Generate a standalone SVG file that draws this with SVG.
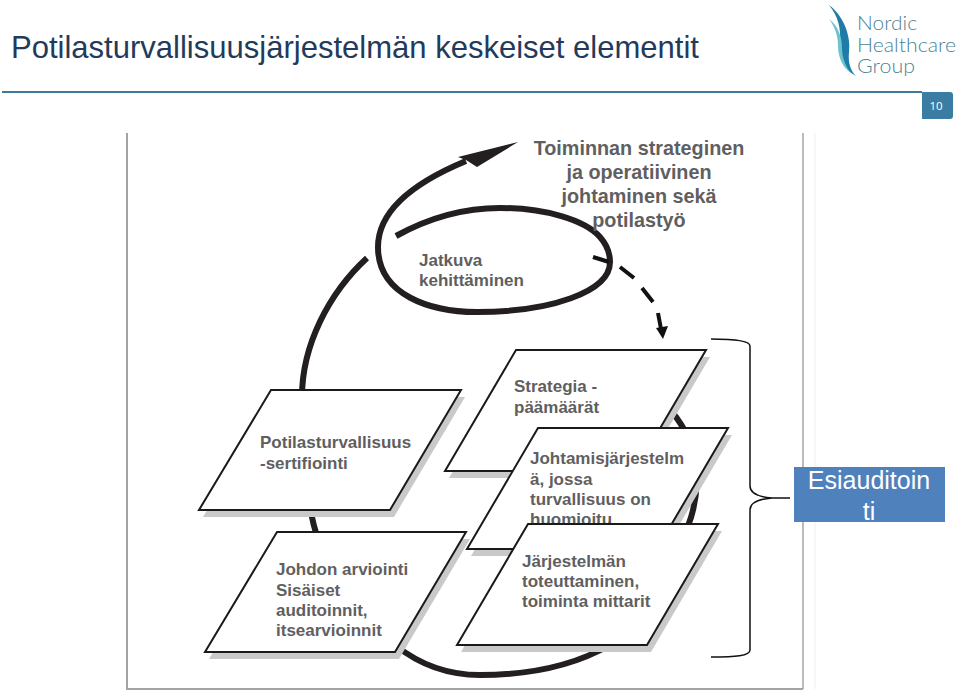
<svg xmlns="http://www.w3.org/2000/svg" width="960" height="694" viewBox="0 0 960 694">
<style>
text{font-family:"Liberation Sans",Arial,sans-serif}
.t{font-size:17px;font-weight:bold;fill:#5f5f61}
.big{font-size:19.8px;font-weight:bold;fill:#5f5f61;text-anchor:middle}
.box{fill:#fff;stroke:#1a1a1a;stroke-width:2;stroke-linejoin:miter}
.sh{fill:#c9c9c9}
.flow{fill:none;stroke:#231f20;stroke-width:6;stroke-linecap:butt}
.logo{font-family:"Lato","Open Sans",sans-serif;font-size:19.5px;font-weight:300;fill:#4d8496}
</style>
<rect width="960" height="694" fill="#fff"/>
<g id="header">
<text x="11" y="58" font-size="30.5" fill="#233a5a" textLength="688" lengthAdjust="spacingAndGlyphs">Potilasturvallisuusjärjestelmän keskeiset elementit</text>
<path d="M2,92H922" stroke="#3d7a9c" stroke-width="2" fill="none"/>
<path d="M922,92H950a3,3 0 0 1 3,3V116a3,3 0 0 1 -3,3H922Z" fill="#3b7ca3"/>
<text x="936" y="110" font-size="11.5" fill="#fff" text-anchor="middle" style="font-family:'Open Sans','Liberation Sans',sans-serif">10</text>
</g>
<g id="logo">
<path d="M829,5C845,17 851,38 849,52C848,62 850,70 856,76C845,70 838,58 840,42C841,28 838,16 829,5Z" fill="#1f7ba8"/>
<path d="M829,19C838,26 842,36 842,48C842,58 846,68 852,74C843,68 838,58 838,46C838,36 835,27 829,19Z" fill="#6fc3cf"/>
<text class="logo" x="857" y="30" textLength="60" lengthAdjust="spacingAndGlyphs">Nordic</text>
<text class="logo" x="857" y="52" textLength="99" lengthAdjust="spacingAndGlyphs">Healthcare</text>
<text class="logo" x="857" y="73" textLength="58" lengthAdjust="spacingAndGlyphs">Group</text>
</g>
<g id="frame" fill="none">
<path d="M803,133V689" stroke="#bcbcbc" stroke-width="2"/>
<path d="M127,133V689H803" stroke="#a4a4a4" stroke-width="2"/>
<path d="M815,133V689" stroke="#efefef" stroke-width="1"/>
</g>
<g id="connectors">
<path class="flow" d="M367,258C330,292 301,345 302,400C302,450 304,495 318,540"/>
<path class="flow" d="M395,645C420,665 450,675 480,675C530,675 575,665 610,645"/>
<path class="flow" d="M672,412C700,445 702,490 688,526"/>
<path class="flow" d="M396,236C425,220 460,208 500,208C545,208 585,220 600,237C607,245 610,253 610,262C610,292 550,312 477,312C430,312 378,295 378,247C378,205 425,178 466,161"/>
<path d="M518,142L458,157L466,160L477,167Z" fill="#231f20"/>
<path d="M593,257L609,262" stroke="#111" stroke-width="4" fill="none"/>
<path d="M620,267L634,278M642,288L653,302M658,313L661,329" stroke="#111" stroke-width="4" fill="none"/>
<path d="M663,339L656,328L668,326Z" fill="#111"/>
<path d="M711,339C735,339 750,341 750,346V486C750,494 760,497 772,498H790M772,498C760,499 750,502 750,510V650C750,656 735,657 711,657" fill="none" stroke="#111" stroke-width="1.5"/>
</g>
<g id="n-potilasturvallisuus">
<polygon class="sh" points="275,397 465,397 394,517 203,517"/>
<polygon class="box" points="271,390 461,390 390,510 199,510"/>
<text class="t" x="260" y="448">Potilasturvallisuus</text>
<text class="t" x="260" y="469">-sertifiointi</text>
</g>
<g id="n-johdon">
<polygon class="sh" points="281,539 470,539 399,659 209,659"/>
<polygon class="box" points="277,532 466,532 395,652 205,652"/>
<text class="t" x="276" y="575">Johdon arviointi</text>
<text class="t" x="276" y="596">Sisäiset</text>
<text class="t" x="276" y="616">auditoinnit,</text>
<text class="t" x="276" y="636">itsearvioinnit</text>
</g>
<g id="n-strategia">
<polygon class="sh" points="520,357 710,357 639,478 449,478"/>
<polygon class="box" points="516,350 706,350 635,471 445,471"/>
<text class="t" x="514" y="392">Strategia -</text>
<text class="t" x="514" y="413">päämäärät</text>
</g>
<g id="n-johtamis">
<polygon class="sh" points="542,435 732,435 661,556 471,556"/>
<polygon class="box" points="538,428 728,428 657,549 467,549"/>
<text class="t" x="530" y="464">Johtamisjärjestelm</text>
<text class="t" x="530" y="485">ä, jossa</text>
<text class="t" x="530" y="505">turvallisuus on</text>
<text class="t" x="530" y="525">huomioitu</text>
</g>
<g id="n-jarjestelma">
<polygon class="sh" points="532,531 722,531 651,652 461,652"/>
<polygon class="box" points="528,524 718,524 647,645 457,645"/>
<text class="t" x="522" y="567">Järjestelmän</text>
<text class="t" x="522" y="587">toteuttaminen,</text>
<text class="t" x="522" y="607">toiminta mittarit</text>
</g>
<g id="n-toiminnan">
<text class="big" x="639" y="155">Toiminnan strateginen</text>
<text class="big" x="639" y="179">ja operatiivinen</text>
<text class="big" x="639" y="203">johtaminen sekä</text>
<text class="big" x="639" y="227">potilastyö</text>
</g>
<g id="n-jatkuva">
<text class="t" x="419" y="266">Jatkuva</text>
<text class="t" x="419" y="286">kehittäminen</text>
</g>
<g id="n-esiauditointi">
<rect x="794" y="467" width="151" height="55" fill="#4f81bd"/>
<text x="869" y="489" font-size="25" fill="#fff" text-anchor="middle">Esiauditoin</text>
<text x="869" y="520" font-size="25" fill="#fff" text-anchor="middle">ti</text>
</g>
</svg>
